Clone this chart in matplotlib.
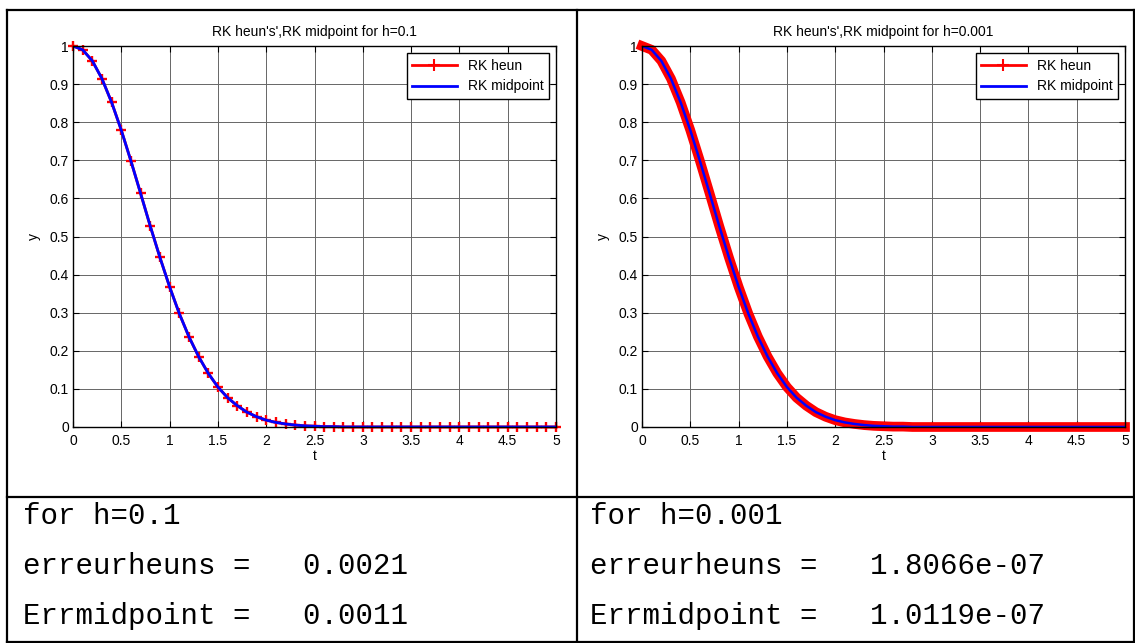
import numpy as np
import matplotlib
matplotlib.use("Agg")
from matplotlib import pyplot as plt
from matplotlib.lines import Line2D

plt.rcParams["font.family"] = ["Liberation Sans", "DejaVu Sans"]

# time grid (step 0.1 s between read-off points)
t_grid = np.linspace(0, 5, 51)

# y values (h=0.1), heun markers and midpoint line overlap
y_heun_h01 = [1.000, 0.990, 0.961, 0.914, 0.852, 0.779, 0.698, 0.613, 0.527, 0.445,
              0.368, 0.298, 0.237, 0.185, 0.141, 0.105, 0.077, 0.056, 0.039, 0.027,
              0.018, 0.012, 0.008, 0.005, 0.003, 0.002, 0.001, 0.001, 0, 0,
              0, 0, 0, 0, 0, 0, 0, 0, 0, 0,
              0, 0, 0, 0, 0, 0, 0, 0, 0, 0, 0]
y_mid_h01 = [1.000, 0.990, 0.961, 0.914, 0.852, 0.779, 0.698, 0.613, 0.527, 0.445,
             0.368, 0.298, 0.237, 0.185, 0.141, 0.105, 0.077, 0.056, 0.039, 0.027,
             0.018, 0.012, 0.008, 0.005, 0.003, 0.002, 0.001, 0.001, 0, 0,
             0, 0, 0, 0, 0, 0, 0, 0, 0, 0,
             0, 0, 0, 0, 0, 0, 0, 0, 0, 0, 0]

# right plot (h=0.001), read every 0.1 along the band
y_heun_h0001 = [1.000, 0.990, 0.961, 0.914, 0.852, 0.779, 0.698, 0.613, 0.527, 0.445,
                0.368, 0.298, 0.237, 0.185, 0.141, 0.105, 0.077, 0.056, 0.039, 0.027,
                0.018, 0.012, 0.008, 0.005, 0.003, 0.002, 0.001, 0.001, 0, 0,
                0, 0, 0, 0, 0, 0, 0, 0, 0, 0,
                0, 0, 0, 0, 0, 0, 0, 0, 0, 0, 0]
y_mid_h0001 = [1.000, 0.990, 0.961, 0.914, 0.852, 0.779, 0.698, 0.613, 0.527, 0.445,
               0.368, 0.298, 0.237, 0.185, 0.141, 0.105, 0.077, 0.056, 0.039, 0.027,
               0.018, 0.012, 0.008, 0.005, 0.003, 0.002, 0.001, 0.001, 0, 0,
               0, 0, 0, 0, 0, 0, 0, 0, 0, 0,
               0, 0, 0, 0, 0, 0, 0, 0, 0, 0, 0]

titles = ["RK heun's',RK midpoint for h=0.1", "RK heun's',RK midpoint for h=0.001"]
x_ticks = [0, 0.5, 1, 1.5, 2, 2.5, 3, 3.5, 4, 4.5, 5]
y_ticks = [0, 0.1, 0.2, 0.3, 0.4, 0.5, 0.6, 0.7, 0.8, 0.9, 1]

left_lines = ["for h=0.1", "erreurheuns =   0.0021", "Errmidpoint =   0.0011"]
right_lines = ["for h=0.001", "erreurheuns =   1.8066e-07", "Errmidpoint =   1.0119e-07"]

W, H = 1135, 643
fig = plt.figure(figsize=(W / 100, H / 100), dpi=100)


def px_box(x0, y0, x1, y1):
    # pixel box (top-left origin) -> figure fraction rect
    return [x0 / W, 1 - y1 / H, (x1 - x0) / W, (y1 - y0) / H]


def style_axes(ax, title):
    ax.set_xlim(0, 5)
    ax.set_ylim(0, 1)
    ax.set_xticks(x_ticks)
    ax.set_yticks(y_ticks)
    ax.set_xticklabels([f"{v:g}" for v in x_ticks])
    ax.set_yticklabels([f"{v:g}" for v in y_ticks])
    ax.tick_params(direction="in", top=True, right=True, length=4, width=0.8,
                   labelsize=10)
    ax.tick_params(axis="x", pad=5)
    ax.tick_params(axis="y", pad=3)
    ax.grid(True, color="0.4", linewidth=0.7, linestyle="-")
    ax.set_axisbelow(True)
    for s in ax.spines.values():
        s.set_linewidth(1.0)
    ax.set_xlabel("t", fontsize=10, labelpad=1)
    ax.set_ylabel("y", fontsize=10, labelpad=6)
    ax.set_title(title, fontsize=10, pad=7)
    handles = [Line2D([], [], color="red", lw=2, marker="+", ms=8, mew=1.5),
               Line2D([], [], color="blue", lw=2)]
    leg = ax.legend(handles, ["RK heun", "RK midpoint"], loc="upper right",
                    fontsize=10, fancybox=False, framealpha=1, edgecolor="black",
                    handlelength=3.2, borderaxespad=0.5, numpoints=1)
    leg.get_frame().set_linewidth(1.0)


ax1 = fig.add_axes(px_box(73, 46, 556, 427))
ax1.plot(t_grid, y_heun_h01, color="red", lw=2, marker="+", ms=7.5, mew=1.7, clip_on=False)
ax1.plot(t_grid, y_mid_h01, color="blue", lw=2)
style_axes(ax1, titles[0])

ax2 = fig.add_axes(px_box(642, 46, 1125, 427))
ax2.plot(t_grid, y_heun_h0001, color="red", lw=7, solid_capstyle="projecting",
         solid_joinstyle="round", clip_on=False)
ax2.plot(t_grid, y_mid_h0001, color="blue", lw=1.8)
style_axes(ax2, titles[1])

# table borders
def fig_line(xs, ys):
    fig.add_artist(Line2D([x / W for x in xs], [1 - y / H for y in ys],
                          color="black", lw=1.6, transform=fig.transFigure))

fig_line([7, 1134], [10, 10])
fig_line([7, 1134], [497, 497])
fig_line([7, 1134], [642, 642])
fig_line([7, 7], [10, 643])
fig_line([577, 577], [10, 643])
fig_line([1134, 1134], [10, 643])

row_y = [516, 566, 616]
for i in range(3):
    fig.text(23 / W, 1 - row_y[i] / H, left_lines[i], family="Liberation Mono",
             fontsize=21, va="center", ha="left")
    fig.text(590 / W, 1 - row_y[i] / H, right_lines[i], family="Liberation Mono",
             fontsize=21, va="center", ha="left")

fig.savefig("out.png", dpi=100)
